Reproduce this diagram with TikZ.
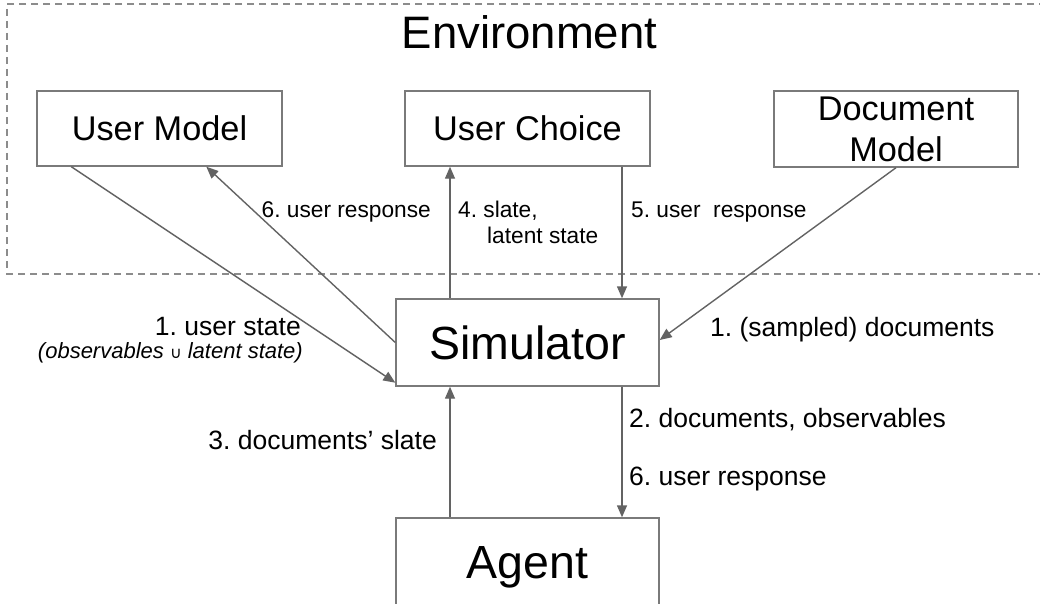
\documentclass[tikz,border=0pt]{standalone}
\usepackage{fontspec}
\setmainfont{Liberation Sans}
\newfontfamily\symfont{DejaVu Sans}
\usetikzlibrary{arrows.meta,calc}
\definecolor{boxc}{HTML}{7A7A7A}
\definecolor{arrc}{HTML}{636363}
\definecolor{dashc}{HTML}{8C8C8C}
\begin{document}
\frenchspacing
\begin{tikzpicture}[x=1pt,y=-1pt,
 box/.style={draw=boxc, line width=1.4pt, inner sep=0pt, minimum width=245pt, minimum height=75pt, text depth=0pt},
 arr/.style={draw=arrc, line width=1.4pt, -{Triangle[length=12pt,width=10pt]}},
 envdash/.style={draw=dashc, line width=1.2pt, dash pattern=on 7pt off 5pt},
 big/.style={font=\fontsize{46.5}{52}\selectfont},
 mid/.style={font=\fontsize{34.3}{41}\selectfont},
 lab/.style={font=\fontsize{26.5}{31}\selectfont, inner sep=0pt},
 labs/.style={font=\fontsize{22.7}{27}\selectfont, inner sep=0pt},
]
\useasboundingbox (0,0) rectangle (1040,604);

% environment frame
\draw[envdash] (1046,4) -- (7,4) -- (7,274) -- (1046,274);
\node[font=\fontsize{45.5}{52}\selectfont, anchor=base, inner sep=0pt] (env) at (529.5,49) {Environment};

% boxes
\node[box, mid, text height=24.5pt] (um) at (159.5,128.5) {User Model};
\node[box, mid, text height=24.5pt] (uc) at (527.5,128.5) {User Choice};
\node[box, minimum width=244pt, minimum height=76pt] (dm) at (896,129) {};
\node[mid, anchor=base, inner sep=0pt] (dm1) at (896,121) {Document};
\node[mid, anchor=base, inner sep=0pt] (dm2) at (896,162) {Model};
\node[box, big, minimum width=263pt, minimum height=87pt, text height=33.3pt] (sim) at (527.5,342.5) {Simulator};
\node[box, big, minimum width=263pt, minimum height=87pt, text height=33.3pt] (ag) at (527.5,561.5) {Agent};

\coordinate (xl) at (450,0);
\coordinate (xr) at (622,0);

% connectors
\draw[arr] ($(um.south west)+(35,0)$) -- ($(sim.south west)+(0,-4)$);
\draw[arr] (sim.west) -- ($(um.south west)+(170,0)$);
\draw[arr] (dm.south) -- ($(sim.east)+(0,-2.5)$);
\draw[arr] (sim.north -| xl) -- (uc.south -| xl);
\draw[arr] (uc.south -| xr) -- (sim.north -| xr);
\draw[arr] (sim.south -| xr) -- (ag.north -| xr);
\draw[arr] (ag.north -| xl) -- (sim.south -| xl);

% labels
\node[labs, anchor=base east] (l6a) at (431,217) {6. user response};
\node[labs, anchor=base west] (l4a) at (458,217) {4. slate,};
\node[labs, anchor=base west] (l4b) at (487,243) {latent state};
\node[labs, anchor=base west] (l5) at (631,217) {5. user\ \ response};
\node[lab, anchor=base east] (l1a) at (301,335) {1. user state};
\node[font=\fontsize{22}{26}\selectfont\itshape, inner sep=0pt, anchor=base east] (l1b) at (303,358) {(observables {\symfont\upshape\fontsize{16}{16}\selectfont ∪} latent state)};
\node[lab, anchor=base west] (l1c) at (710,336) {1. (sampled) documents};
\node[lab, anchor=base west] (l2) at (629,427) {2. documents, observables};
\node[lab, anchor=base west] (l6b) at (629,485) {6. user response};
\node[lab, anchor=base east] (l3) at (437,449) {3. documents’ slate};
\end{tikzpicture}
\end{document}
